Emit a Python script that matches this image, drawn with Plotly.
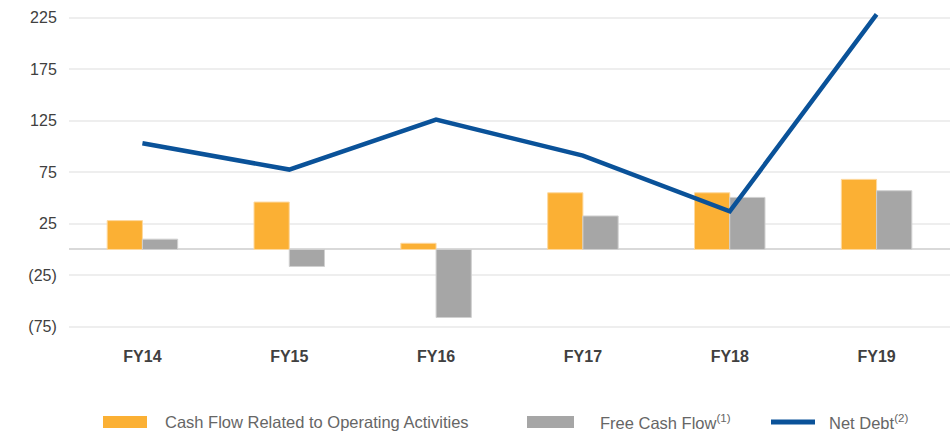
import plotly.graph_objects as go

categories = ["FY14", "FY15", "FY16", "FY17", "FY18", "FY19"]
operating_cf = [28, 46, 6, 55, 55, 68]
free_cf = [10, -16.5, -66, 32.5, 50.5, 57]
net_debt = [103, 77.5, 126, 91, 37, 228]
ytick_vals = [-75, -25, 25, 75, 125, 175, 225]
ytick_text = ["(75)", "(25)", "25", "75", "125", "175", "225"]
legend_names = ["Cash Flow Related to Operating Activities", "Free Cash Flow<sup>(1)</sup>", "Net Debt<sup>(2)</sup>"]

ORANGE, GRAY, BLUE = "#FBB034", "#A6A6A6", "#0A5299"
FONT = "Liberation Sans, Arial, sans-serif"

W, H = 950, 434
ML, MR, MT, MB = 69, 0, 0, 100
PW, PH = W - ML - MR, H - MT - MB

def px(x):
    return (x - ML) / PW

def py(y):
    return (H - MB - y) / PH

fig = go.Figure()
fig.add_trace(go.Bar(x=categories, y=operating_cf, name=legend_names[0],
                     marker=dict(color=ORANGE, line=dict(color="#FDD9A0", width=1))))
fig.add_trace(go.Bar(x=categories, y=free_cf, name=legend_names[1],
                     marker=dict(color=GRAY, line=dict(color="#D0D0D0", width=1))))
fig.add_trace(go.Scatter(x=categories, y=net_debt, name=legend_names[2], mode="lines",
                         line=dict(color=BLUE, width=4.5)))

# custom legend (swatches + labels)
shapes = [
    dict(type="rect", xref="paper", yref="paper", x0=px(103), x1=px(147), y0=py(428), y1=py(416),
         fillcolor=ORANGE, line=dict(width=0)),
    dict(type="rect", xref="paper", yref="paper", x0=px(527), x1=px(574), y0=py(428), y1=py(416),
         fillcolor=GRAY, line=dict(width=0)),
    dict(type="line", xref="paper", yref="paper", x0=px(771), x1=px(815), y0=py(422), y1=py(422),
         line=dict(color=BLUE, width=5)),
]
label_x = [163, 598, 827]
annotations = [
    dict(text=t, xref="paper", yref="paper", x=px(lx), y=py(422), xanchor="left", yanchor="middle",
         showarrow=False, font=dict(size=16.5, color="#666666", family=FONT))
    for t, lx in zip(legend_names, label_x)
]

fig.update_layout(
    width=W, height=H,
    margin=dict(l=ML, r=MR, t=MT, b=MB),
    plot_bgcolor="white", paper_bgcolor="white",
    barmode="group", bargap=0.52, bargroupgap=0,
    showlegend=False,
    font=dict(family=FONT, color="#404040"),
    xaxis=dict(showgrid=False, ticks="outside", ticklen=8, tickcolor="rgba(0,0,0,0)",
               tickfont=dict(size=16, color="#404040", family=FONT, weight="bold"),
               showline=False, zeroline=False),
    yaxis=dict(range=[-82, 242], tickvals=ytick_vals, ticktext=ytick_text,
               showgrid=True, gridcolor="#EEEEEE", gridwidth=2,
               zeroline=True, zerolinecolor="#D9D9D9", zerolinewidth=2,
               ticks="outside", ticklen=8, tickcolor="rgba(0,0,0,0)",
               tickfont=dict(size=16, color="#404040"), showline=False),
    shapes=shapes,
    annotations=annotations,
)

fig.write_html("out.html", config={"displayModeBar": False},
               post_script="document.body.style.margin='0';")
